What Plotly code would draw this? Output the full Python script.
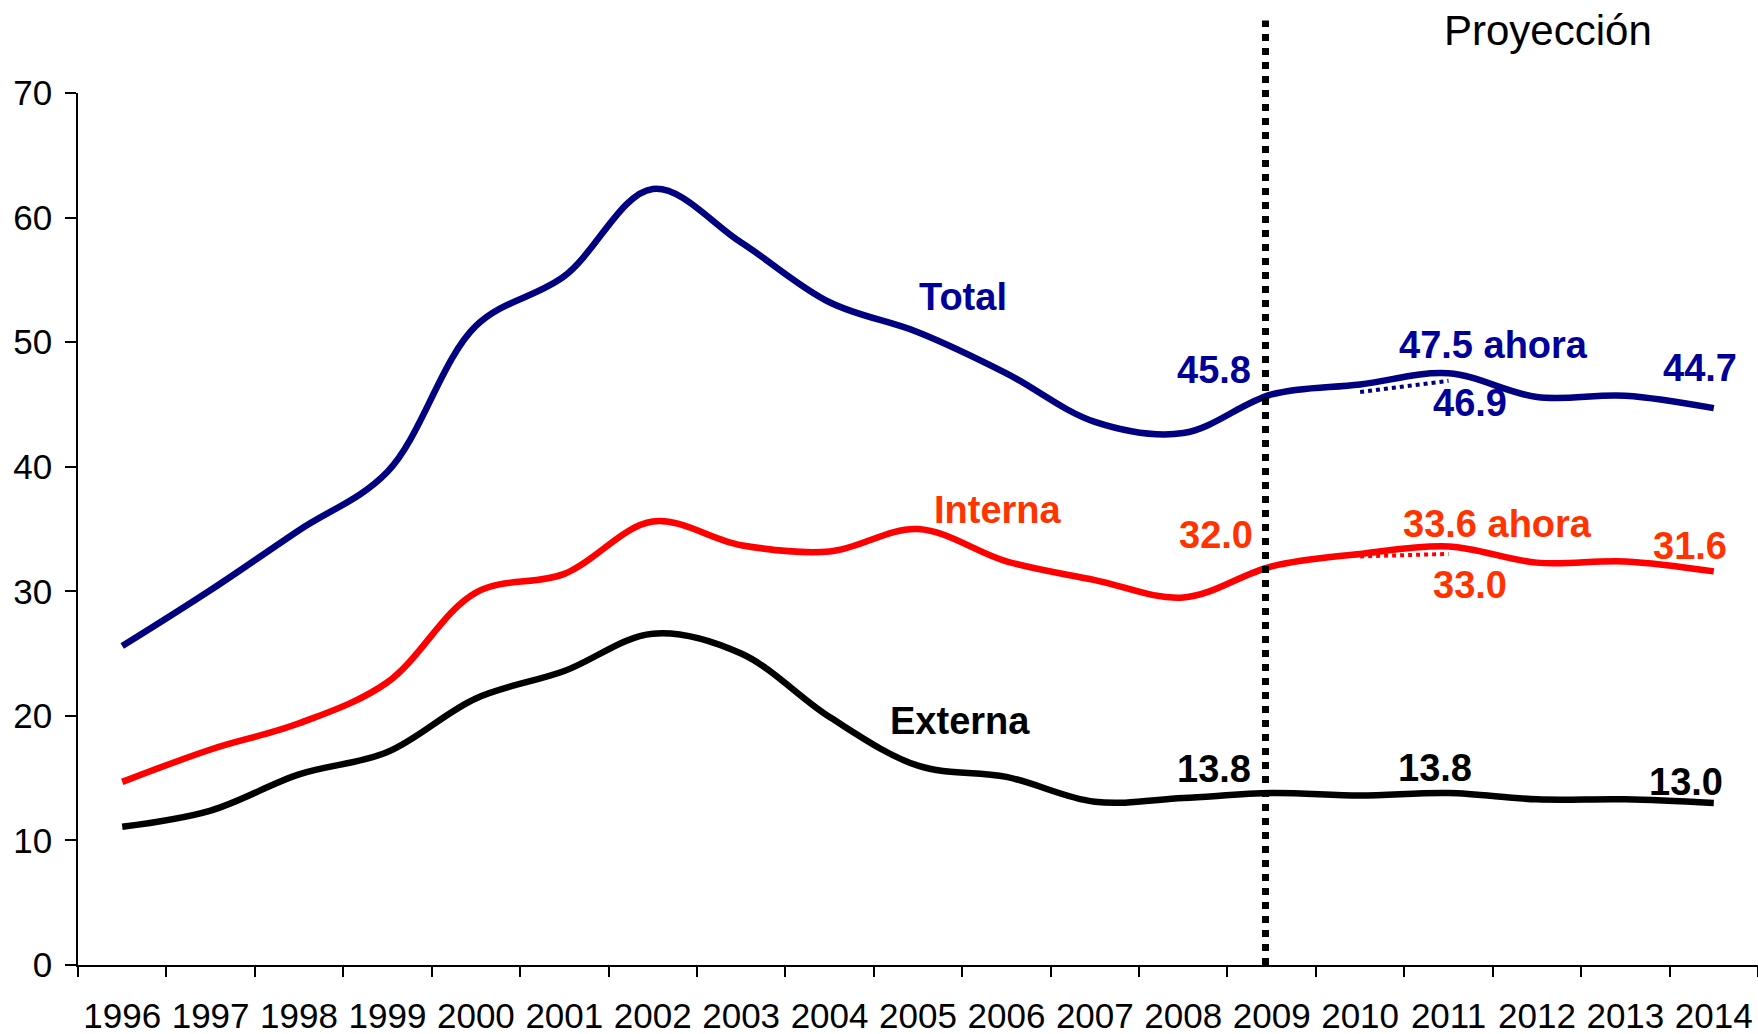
"""Deuda pública: total, interna y externa, 1996-2014 (con proyección)."""
import plotly.graph_objects as go

YEARS = ["1996", "1997", "1998", "1999", "2000", "2001", "2002", "2003", "2004", "2005",
         "2006", "2007", "2008", "2009", "2010", "2011", "2012", "2013", "2014"]
TOTAL = [25.6, 30.1, 34.9, 39.6, 51.3, 55.3, 62.3, 58.0, 53.2, 50.8,
         47.5, 43.6, 42.7, 45.8, 46.6, 47.5, 45.6, 45.7, 44.7]
INTERNA = [14.7, 17.3, 19.4, 22.7, 29.9, 31.4, 35.6, 33.7, 33.2, 35.0,
           32.4, 30.9, 29.5, 32.0, 33.0, 33.6, 32.3, 32.4, 31.6]
EXTERNA = [11.1, 12.4, 15.3, 17.1, 21.4, 23.6, 26.6, 25.0, 19.9, 16.0,
           15.1, 13.1, 13.4, 13.8, 13.6, 13.8, 13.3, 13.3, 13.0]

# projection published before ("antes")
PREV_YEARS = ["2010", "2011"]
PREV_TOTAL = [46.0, 46.9]
PREV_INTERNA = [32.8, 33.0]

PROJ_START = "2009"

NAVY = "#000080"
NAVY_TXT = "#000099"
RED = "#FF0000"
RED_TXT = "#FF3300"
FONT = "Arial, Liberation Sans, sans-serif"

fig = go.Figure()
for name, vals, color in [("Total", TOTAL, NAVY), ("Interna", INTERNA, RED), ("Externa", EXTERNA, "#000000")]:
    fig.add_trace(go.Scatter(
        x=YEARS, y=vals, name=name, mode="lines",
        line=dict(color=color, width=6.5, shape="spline", smoothing=1),
    ))
for vals, color in [(PREV_TOTAL, NAVY), (PREV_INTERNA, RED)]:
    fig.add_trace(go.Scatter(
        x=PREV_YEARS, y=vals, mode="lines",
        line=dict(color=color, width=4, dash="dot"),
    ))

# vertical dotted line marking the start of the projection
x_proj = YEARS.index(PROJ_START) - 0.07
fig.add_shape(
    type="line", xref="x", yref="paper",
    x0=x_proj, x1=x_proj, y0=0, y1=1.083,
    line=dict(color="black", width=7, dash="7px,7px"),
)


def label(text, x, y, color, size=38, bold=True, yref="y"):
    fig.add_annotation(
        text=f"<b>{text}</b>" if bold else text,
        x=x, y=y, xref="x", yref=yref, showarrow=False,
        xanchor="center", yanchor="middle",
        font=dict(family=FONT, size=size, color=color),
    )


label("Total", 9.51, 53.6, NAVY_TXT)
label("Interna", 9.91, 36.5, RED_TXT)
label("Externa", 9.48, 19.6, "#000000")
label("45.8", 12.35, 47.8, NAVY_TXT)
label("32.0", 12.37, 34.5, RED_TXT)
label("13.8", 12.35, 15.7, "#000000")
label("47.5 ahora", 15.51, 49.8, NAVY_TXT)
label("46.9", 15.24, 45.1, NAVY_TXT)
label("33.6 ahora", 15.55, 35.4, RED_TXT)
label("33.0", 15.24, 30.5, RED_TXT)
label("13.8", 14.85, 15.8, "#000000")
label("44.7", 17.84, 47.9, NAVY_TXT)
label("31.6", 17.73, 33.6, RED_TXT)
label("13.0", 17.69, 14.7, "#000000")
label("Proyección", 16.13, 1.072, "#000000", size=42, bold=False, yref="paper")

fig.update_layout(
    width=1758, height=1034,
    margin=dict(l=78, r=0, t=93, b=69),
    paper_bgcolor="white", plot_bgcolor="white",
    showlegend=False,
    font=dict(family=FONT, size=35, color="black"),
)
fig.update_xaxes(
    type="category", range=[-0.5, len(YEARS) - 0.5],
    tickson="boundaries", ticks="outside", ticklen=10, tickwidth=1.5, tickcolor="black",
    showline=True, linecolor="black", linewidth=1.5,
    showgrid=False, zeroline=False, automargin=False, ticklabelstandoff=19,
)
fig.update_yaxes(
    range=[0, 70], dtick=10, ticks="outside", ticklen=11, tickwidth=1.5, tickcolor="black",
    showline=True, linecolor="black", linewidth=1.5,
    showgrid=False, zeroline=False, automargin=False, ticklabelstandoff=6,
)

fig.write_html(
    "out.html",
    config={"displayModeBar": False},
    post_script="document.body.style.margin='0';document.body.style.overflow='hidden';",
)
